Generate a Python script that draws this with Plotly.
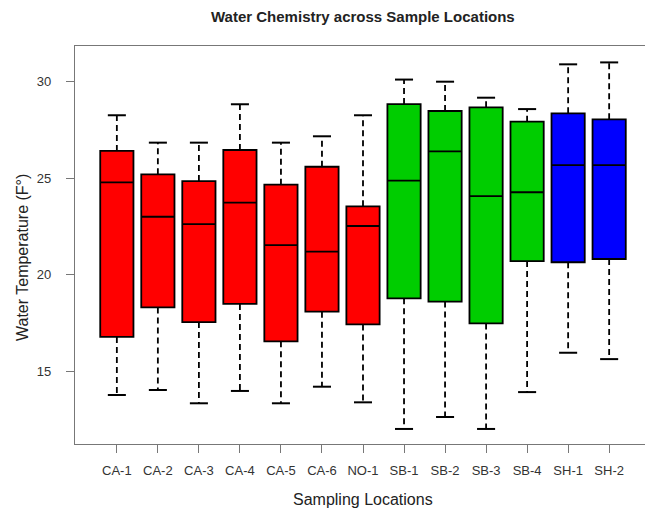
import plotly.graph_objects as go

# ---- data ----
locations = ["CA-1", "CA-2", "CA-3", "CA-4", "CA-5", "CA-6", "NO-1",
             "SB-1", "SB-2", "SB-3", "SB-4", "SH-1", "SH-2"]
whisker_low = [13.76, 14.02, 13.33, 13.97, 13.33, 14.19, 13.38,
               12.00, 12.62, 12.00, 13.91, 15.95, 15.62]
q1_vals = [16.77, 18.30, 17.54, 18.48, 16.54, 18.08, 17.42,
           18.77, 18.60, 17.47, 20.70, 20.64, 20.81]
median_vals = [24.78, 23.00, 22.62, 23.73, 21.53, 21.19, 22.52,
               24.87, 26.39, 24.07, 24.27, 25.68, 25.68]
q3_vals = [26.41, 25.20, 24.85, 26.46, 24.66, 25.59, 23.54,
           28.84, 28.48, 28.67, 27.93, 28.36, 28.05]
whisker_high = [28.26, 26.84, 26.84, 28.83, 26.84, 27.17, 28.26,
                30.11, 30.00, 29.17, 28.58, 30.90, 31.00]
groups = ["CA"] * 7 + ["SB"] * 4 + ["SH"] * 2
group_colors = {"CA": "#FF0000", "SB": "#00CD00", "SH": "#0000FF"}
y_ticks = [15, 20, 25, 30]

positions = list(range(1, len(locations) + 1))

fig = go.Figure()

# dashed whiskers
wx, wy = [], []
for p, lo, a, b, hi in zip(positions, whisker_low, q1_vals, q3_vals, whisker_high):
    wx += [p, p, None, p, p, None]
    wy += [b, hi, None, a, lo, None]
fig.add_trace(go.Scatter(x=wx, y=wy, mode="lines", showlegend=False, hoverinfo="skip",
                         line=dict(color="black", width=1.8, dash="6px,4px")))

# staples
cap = 0.22
cx, cy = [], []
for p, lo, hi in zip(positions, whisker_low, whisker_high):
    cx += [p - cap, p + cap, None, p - cap, p + cap, None]
    cy += [hi, hi, None, lo, lo, None]
fig.add_trace(go.Scatter(x=cx, y=cy, mode="lines", showlegend=False, hoverinfo="skip",
                         line=dict(color="black", width=2)))

# boxes
for g, col in group_colors.items():
    idx = [i for i, gg in enumerate(groups) if gg == g]
    fig.add_trace(go.Box(
        x=[positions[i] for i in idx],
        q1=[q1_vals[i] for i in idx],
        median=[median_vals[i] for i in idx],
        q3=[q3_vals[i] for i in idx],
        lowerfence=[q1_vals[i] for i in idx],
        upperfence=[q3_vals[i] for i in idx],
        width=0.81, whiskerwidth=0, boxpoints=False,
        fillcolor=col, line=dict(color="black", width=1.8),
        showlegend=False, name=g,
    ))

# page body has an 8px margin: compensate so page pixels match the reference
OFF = 8
W, H = 653 - OFF, 510 - OFF
L, R, T, B = 75, 651, 46, 444  # plot frame in page pixels
def px_x(px):
    return (px - L) / (R - L)
def px_y(py):
    return (B - py) / (B - T)

fig.update_layout(
    width=W, height=H,
    margin=dict(l=L - OFF, r=653 - R, t=T - OFF, b=510 - B),
    plot_bgcolor="white", paper_bgcolor="white",
    boxmode="overlay",
    font=dict(family="Liberation Sans, Arial, sans-serif", color="#333"),
    xaxis=dict(range=[-0.02, 14.02], tickvals=positions, ticktext=locations,
               showgrid=False, zeroline=False, showline=True, mirror=True,
               linecolor="#777", linewidth=1.2, ticks="outside", ticklen=8,
               tickcolor="#777", tickfont=dict(size=13), ticklabelstandoff=6,
               automargin=False),
    yaxis=dict(range=[11.22, 31.85], tickvals=y_ticks,
               showgrid=False, zeroline=False, showline=True, mirror=True,
               linecolor="#777", linewidth=1.2, ticks="outside", ticklen=8,
               tickcolor="#777", tickfont=dict(size=13), ticklabelstandoff=12,
               automargin=False),
    annotations=[
        dict(text="<b>Water Chemistry across Sample Locations</b>", xref="paper", yref="paper",
             x=px_x(362.5), y=px_y(17), xanchor="center", yanchor="middle", showarrow=False,
             font=dict(size=15, color="#222")),
        dict(text="Sampling Locations", xref="paper", yref="paper",
             x=px_x(362.5), y=px_y(499), xanchor="center", yanchor="middle", showarrow=False,
             font=dict(size=16, color="#222")),
        dict(text="Water Temperature (F°)", xref="paper", yref="paper",
             x=px_x(22), y=px_y(258), xanchor="center", yanchor="middle", showarrow=False,
             textangle=-90, font=dict(size=16, color="#222")),
    ],
)

fig.write_html("out.html")
